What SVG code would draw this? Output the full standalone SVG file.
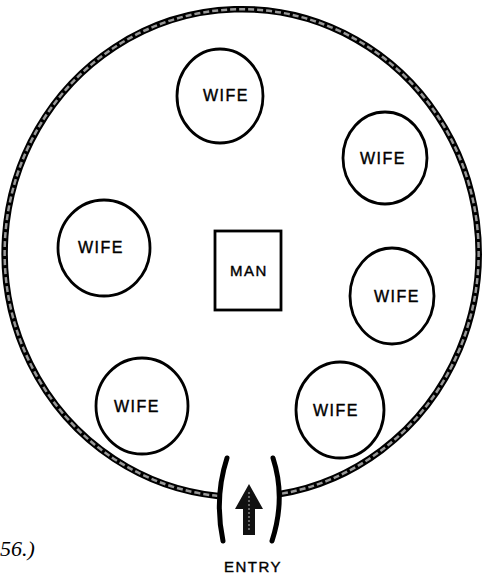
<svg xmlns="http://www.w3.org/2000/svg" width="496" height="575" viewBox="0 0 496 575">
<defs>
<style>
.wife{fill:none;stroke:#000;stroke-width:2.8}
.lbl{font-family:"Liberation Sans",sans-serif;font-size:16px;fill:#000;stroke:#000;stroke-width:0.4;text-anchor:middle;letter-spacing:1.5px}
.outerA{fill:none;stroke:#000;stroke-width:6.5}
.outerB{fill:none;stroke:#999;stroke-width:2.5;stroke-dasharray:6 3}
</style>
</defs>
<rect width="496" height="575" fill="#fff"/>
<g id="enclosure">
<path class="outerA" d="M 218 496 A 237 244 0 1 1 280 494"/>
<path class="outerB" d="M 218 496 A 237 244 0 1 1 280 494"/>
</g>
<g id="entry">
<path d="M 227 458 Q 214 498 223 541" fill="none" stroke="#000" stroke-width="5" stroke-linecap="round"/>
<path d="M 273 458 Q 286 498 272 541" fill="none" stroke="#000" stroke-width="5" stroke-linecap="round"/>
<path d="M 249 484 L 263 509 L 255 509 L 255 535 L 243 535 L 243 509 L 235 509 Z" fill="#111"/>
<path d="M 249 492 L 249 530" stroke="#666" stroke-width="2" stroke-dasharray="2 2"/>
<text class="lbl" x="253" y="572" style="font-size:15px">ENTRY</text>
</g>
<g id="wife1"><ellipse class="wife" cx="220" cy="96" rx="43" ry="47"/><text class="lbl" x="226" y="101">WIFE</text></g>
<g id="wife2"><ellipse class="wife" cx="385" cy="158" rx="42" ry="46"/><text class="lbl" x="383" y="164">WIFE</text></g>
<g id="wife3"><ellipse class="wife" cx="104" cy="248" rx="46" ry="48"/><text class="lbl" x="101" y="253">WIFE</text></g>
<g id="wife4"><ellipse class="wife" cx="392" cy="296" rx="42" ry="48"/><text class="lbl" x="397" y="302">WIFE</text></g>
<g id="wife5"><ellipse class="wife" cx="142" cy="406" rx="46" ry="48"/><text class="lbl" x="137" y="412">WIFE</text></g>
<g id="wife6"><ellipse class="wife" cx="340" cy="410" rx="44" ry="48"/><text class="lbl" x="336" y="416">WIFE</text></g>
<g id="man"><rect x="215" y="231" width="66" height="79" fill="none" stroke="#000" stroke-width="2.8"/><text class="lbl" x="249" y="276" style="font-size:15px">MAN</text></g>
<text x="0" y="556" font-family="Liberation Serif, serif" font-style="italic" font-size="22" fill="#000">56.)</text>
</svg>
